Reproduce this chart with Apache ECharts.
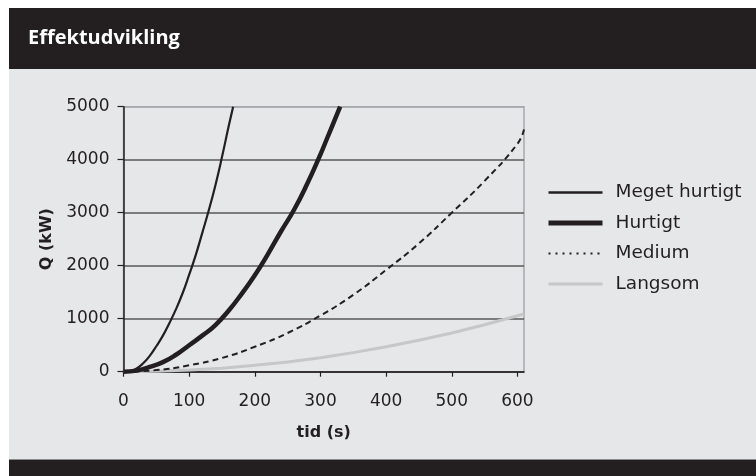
<!DOCTYPE html>
<html>
<head>
<meta charset="utf-8">
<script src="https://cdn.jsdelivr.net/npm/echarts@6/dist/echarts.min.js"></script>
<style>
  html, body { margin: 0; padding: 0; background: #ffffff; }
  #chart { width: 756px; height: 476px; }
</style>
</head>
<body>
<div id="chart"></div>
<script>
// ---- data ----
const titleText = 'Effektudvikling';
const xName = 'tid (s)';
const yName = 'Q (kW)';
const seriesNames = ['Meget hurtigt', 'Hurtigt', 'Medium', 'Langsom'];

const tMeget = [0, 10, 20, 30, 40, 50, 60, 70, 80, 90, 100, 110, 120, 130, 140, 150, 160, 167];
const qMeget = [0, 10, 60, 160, 300, 480, 680, 920, 1180, 1480, 1830, 2200, 2620, 3050, 3520, 4050, 4620, 5000];

const tHurtigt = [0, 20, 40, 60, 80, 100, 120, 140, 160, 180, 200, 220, 240, 260, 280, 300, 310, 320, 330];
const qHurtigt = [0, 20, 90, 180, 320, 500, 680, 880, 1150, 1470, 1820, 2220, 2650, 3060, 3550, 4100, 4400, 4700, 5000];

const tMedium = [0, 50, 100, 150, 200, 250, 300, 350, 400, 450, 500, 550, 600, 610];
const qMedium = [0, 30, 120, 260, 470, 730, 1060, 1450, 1920, 2420, 3000, 3600, 4300, 4570];

const tLangsom = [0, 50, 100, 150, 200, 250, 300, 350, 400, 450, 500, 550, 600, 610];
const qLangsom = [0, 10, 30, 65, 120, 185, 265, 360, 470, 595, 730, 885, 1055, 1090];

const xTicks = [0, 100, 200, 300, 400, 500, 600];
const yTicks = [0, 1000, 2000, 3000, 4000, 5000];

// ---- build ----
const pairs = (xs, ys) => xs.map((x, i) => [x, ys[i]]);
const dark = '#231f20';
const light = '#c6c7c9';
const panel = '#e6e7e8';
const fontMain = '"DejaVu Sans", sans-serif';

const chart = echarts.init(document.getElementById('chart'), null, { renderer: 'canvas' });

chart.setOption({
  animation: false,
  backgroundColor: '#ffffff',
  graphic: [
    { type: 'rect', z: -10, shape: { x: 9, y: 8, width: 747, height: 61 }, style: { fill: dark } },
    { type: 'rect', z: -10, shape: { x: 9, y: 69, width: 747, height: 391 }, style: { fill: panel } },
    { type: 'rect', z: -10, shape: { x: 9, y: 460, width: 747, height: 16 }, style: { fill: dark } },
    { type: 'rect', z: -10, shape: { x: 9, y: 459, width: 747, height: 1 }, style: { fill: '#8a8a8a' } }
  ],
  title: {
    text: titleText,
    left: 23,
    top: 23,
    textStyle: { color: '#ffffff', fontFamily: '"Open Sans", sans-serif', fontWeight: 'bold', fontSize: 20 }
  },
  grid: {
    left: 123.5, right: 232, top: 106.7, bottom: 104.3,
    show: true, backgroundColor: 'transparent', borderColor: '#a7a9ac', borderWidth: 1.5,
    containLabel: false
  },
  legend: {
    orient: 'vertical',
    left: 541, top: 178,
    itemWidth: 54, itemHeight: 14, itemGap: 11.5,
    data: [
      { name: seriesNames[0], lineStyle: { color: dark, width: 2.5 } },
      { name: seriesNames[1], lineStyle: { color: dark, width: 5 } },
      { name: seriesNames[2], lineStyle: { color: dark, width: 2, type: [2, 5] } },
      { name: seriesNames[3], lineStyle: { color: light, width: 3 } }
    ],
    itemStyle: { opacity: 0, borderWidth: 0 },
    textStyle: { color: dark, fontFamily: fontMain, fontSize: 18.5, padding: [0, 0, 0, 8] }
  },
  xAxis: {
    type: 'value', min: 0, max: 610, interval: 100,
    name: xName, nameLocation: 'middle', nameGap: 53,
    nameTextStyle: { color: dark, fontFamily: fontMain, fontWeight: 'bold', fontSize: 16 },
    axisLine: { show: true, onZero: false, lineStyle: { color: dark, width: 1.5 } },
    axisTick: { show: true, length: 5, lineStyle: { color: dark, width: 1.2 }, customValues: xTicks },
    axisLabel: { color: dark, fontFamily: fontMain, fontSize: 17, margin: 21, customValues: xTicks,
      formatter: v => String(v) },
    splitLine: { show: false }
  },
  yAxis: {
    type: 'value', min: 0, max: 5000, interval: 1000,
    name: yName, nameLocation: 'middle', nameGap: 66,
    nameTextStyle: { color: dark, fontFamily: fontMain, fontWeight: 'bold', fontSize: 16 },
    axisLine: { show: true, onZero: false, lineStyle: { color: dark, width: 1.5 } },
    axisTick: { show: true, length: 6, lineStyle: { color: dark, width: 1.2 } },
    axisLabel: { color: dark, fontFamily: fontMain, fontSize: 17, margin: 14, formatter: v => String(v) },
    splitLine: { show: true, lineStyle: { color: ['#58595b', '#58595b', '#58595b', '#58595b', '#58595b', '#a7a9ac'], width: 1.5 } }
  },
  series: [
    { name: seriesNames[3], type: 'line', data: pairs(tLangsom, qLangsom), showSymbol: false, symbol: 'none', smooth: false, z: 2,
      lineStyle: { color: light, width: 3 }, itemStyle: { color: light } },
    { name: seriesNames[2], type: 'line', data: pairs(tMedium, qMedium), showSymbol: false, symbol: 'none', smooth: true, z: 3,
      lineStyle: { color: dark, width: 2, type: [6, 4] }, itemStyle: { color: dark } },
    { name: seriesNames[1], type: 'line', data: pairs(tHurtigt, qHurtigt), showSymbol: false, symbol: 'none', smooth: true, z: 4,
      lineStyle: { color: dark, width: 4.5 }, itemStyle: { color: dark } },
    { name: seriesNames[0], type: 'line', data: pairs(tMeget, qMeget), showSymbol: false, symbol: 'none', smooth: true, z: 5,
      lineStyle: { color: dark, width: 2.2 }, itemStyle: { color: dark } }
  ]
});
</script>
</body>
</html>
